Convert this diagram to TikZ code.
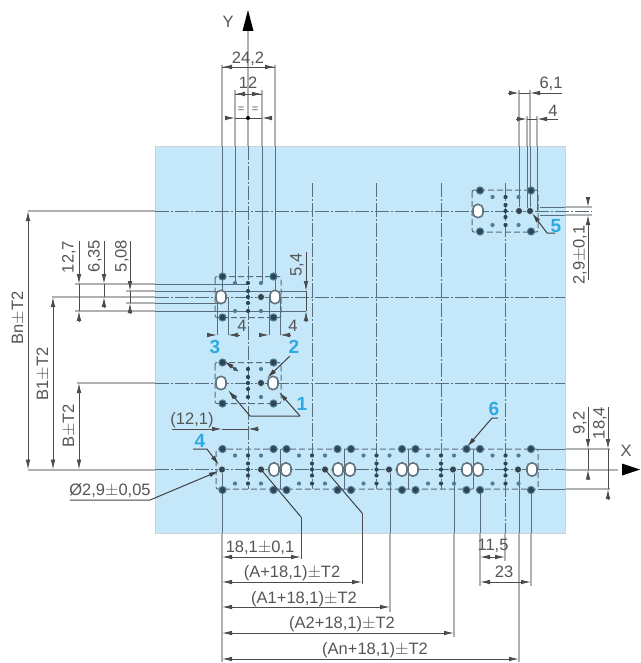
\documentclass[tikz,border=0pt]{standalone}
\usepackage{fontspec}
\setmainfont{Liberation Sans}
\usetikzlibrary{arrows.meta}
\definecolor{panelblue}{RGB}{197,231,250}
\definecolor{linegray}{RGB}{88,108,122}
\definecolor{extgray}{RGB}{175,178,180}
\definecolor{textgray}{RGB}{85,85,85}
\definecolor{dotdark}{RGB}{45,70,85}
\definecolor{dotlight}{RGB}{80,125,150}
\definecolor{numcyan}{RGB}{45,170,225}

\tikzset{
	axisline/.style={linegray, line width=1pt, dash pattern=on 14pt off 2pt on 2pt off 2pt},
	extline/.style={extgray, line width=2pt},
	drawline/.style={linegray, line width=1pt},
	dimline/.style={black!70, line width=0.9pt},
	railline/.style={linegray, line width=1pt, dash pattern=on 6pt off 3pt},
	leaderline/.style={black!75, line width=1pt},
	dimlabel/.style={textgray, inner sep=0pt, font=\fontsize{16.5}{18}\selectfont},
	numlabel/.style={numcyan, inner sep=0pt, font=\fontsize{19}{20}\selectfont\bfseries},
	bigdot/.style={fill=dotdark, draw=dotlight, line width=1pt},
	slothole/.style={fill=white, draw=dotdark!75, line width=1.6pt, rounded corners=4.5pt}
}

% dots of one plate, no holes
\newcommand{\platedots}[2]{
	\filldraw[bigdot] (#1-25.5,#2-20.5) circle (3.6);
	\filldraw[bigdot] (#1+25.5,#2-20.5) circle (3.6);
	\filldraw[bigdot] (#1-25.5,#2+20.5) circle (3.6);
	\filldraw[bigdot] (#1+25.5,#2+20.5) circle (3.6);
	\fill[dotlight] (#1-13,#2-14) circle (2.1);
	\fill[dotlight] (#1+13,#2-14) circle (2.1);
	\fill[dotlight] (#1-13,#2+14) circle (2.1);
	\fill[dotlight] (#1+13,#2+14) circle (2.1);
	\fill[dotdark] (#1,#2-14) circle (2.1);
	\fill[dotdark] (#1,#2-6) circle (2.1);
	\fill[dotdark] (#1,#2) circle (2.1);
	\fill[dotdark] (#1,#2+6) circle (2.1);
	\fill[dotdark] (#1,#2+14) circle (2.1);
}
\newcommand{\slotat}[2]{
	\filldraw[slothole] (#1-5,#2-6.5) rectangle +(10,13);
}
\newcommand{\holeat}[2]{
	\filldraw[fill=dotdark, draw=white!70!dotlight, line width=0.8pt] (#1,#2) circle (3.6);
}

\begin{document}
\begin{tikzpicture}[x=1pt, y=-1pt, >={Latex[length=10pt,width=4.6pt]}, line cap=butt]

		\useasboundingbox (0,0) rectangle (640,663);

		\fill[panelblue] (155,146) rectangle (565,533);
		\draw[extgray!60, line width=0.6pt] (155,146) rectangle (565,533);

		% outside the panel
		\draw[extline] (28,211)--(155,211);
		\draw[extline] (52,297)--(155,297);
		\draw[extline] (77,383)--(155,383);
		\draw[extline] (28,469.5)--(155,469.5);
		\draw[extline] (75,284)--(155,284);
		\draw[extline] (126,291)--(155,291);
		\draw[extline] (126,303)--(155,303);
		\draw[extline] (75,311)--(155,311);
		\draw[extline] (565,207)--(592,207);
		\draw[extline] (565,215)--(592,215);
		\draw[extline] (565,449)--(610,449);
		\draw[extline] (565,469.5)--(618,469.5);
		\draw[extline] (565,489)--(610,489);
		\draw[extline] (222,65)--(222,146);
		\draw[extline] (235,90)--(235,146);
		\draw[extline] (262,90)--(262,146);
		\draw[extline] (275,65)--(275,146);
		\draw[extline] (248,30)--(248,146);
		\draw[extline] (519,90)--(519,146);
		\draw[extline] (527,116)--(527,146);
		\draw[extline] (530,90)--(530,146);
		\draw[extline] (537,116)--(537,146);
		\draw[extline] (222,533)--(222,662);
		\draw[extline] (390,533)--(390,612);
		\draw[extline] (454,533)--(454,637);
		\draw[extline] (480,533)--(480,586);
		\draw[extline] (505,533)--(505,561);
		\draw[extline] (519,533)--(519,662);
		\draw[extline] (531,533)--(531,586);

		% inside the panel
		\draw[axisline] (155,211)--(592,211);
		\draw[axisline] (155,297)--(565,297);
		\draw[axisline] (155,383)--(565,383);
		\draw[axisline] (155,469.5)--(565,469.5);
		\draw[axisline] (248,146)--(248,489);
		\draw[axisline] (312,183)--(312,489);
		\draw[axisline] (376,183)--(376,489);
		\draw[axisline] (441,183)--(441,489);
		\draw[axisline] (505,183)--(505,533);

		\draw[drawline] (155,284)--(248,284);
		\draw[drawline] (155,291)--(306,291);
		\draw[drawline] (155,303)--(222,303);
		\draw[drawline] (155,311)--(306,311);
		\draw[drawline] (540,207)--(565,207);
		\draw[drawline] (540,215)--(565,215);
		\draw[drawline] (538,449)--(565,449);
		\draw[drawline] (538,489)--(565,489);

		\draw[drawline] (222,146)--(222,297);
		\draw[drawline] (235,146)--(235,284);
		\draw[drawline] (262,146)--(262,284);
		\draw[drawline] (275,146)--(275,297);
		\draw[drawline] (217,297)--(217,335);
		\draw[drawline] (228,297)--(228,335);
		\draw[drawline] (269,297)--(269,335);
		\draw[drawline] (280,297)--(280,335);
		\draw[drawline] (519,146)--(519,211);
		\draw[drawline] (527,146)--(527,211);
		\draw[drawline] (530,146)--(530,211);
		\draw[drawline] (537,146)--(537,211);
		\draw[drawline] (222,469)--(222,533);
		\draw[drawline] (390,469)--(390,533);
		\draw[drawline] (454,469)--(454,533);
		\draw[drawline] (480,489)--(480,533);
		\draw[drawline] (519,469)--(519,533);
		\draw[drawline] (531,489)--(531,533);

		% plate outlines
		\draw[railline, rounded corners=2pt] (472,190)--(472,232)--(538,232)--(538,190)--cycle;
		\draw[railline, rounded corners=2pt] (215,276.5)--(215,317.5)--(281,317.5)--(281,276.5)--cycle;
		\draw[railline, rounded corners=2pt] (215,362.5)--(215,403.5)--(281,403.5)--(281,362.5)--cycle;
		\draw[railline, rounded corners=2pt] (216,449)--(216,489)--(538,489)--(538,449)--cycle;
		\draw[drawline, line width=0.7pt] (280,449)--(280,489);
		\draw[drawline, line width=0.7pt] (344,449)--(344,489);
		\draw[drawline, line width=0.7pt] (408,449)--(408,489);
		\draw[drawline, line width=0.7pt] (473,449)--(473,489);

		\platedots{505.5}{211}
		\platedots{248}{297}
		\platedots{248}{383}
		\platedots{248}{469.5}
		\platedots{312}{469.5}
		\platedots{376.5}{469.5}
		\platedots{441}{469.5}
		\platedots{505.5}{469.5}

		\slotat{478}{211}
		\slotat{221}{297}
		\slotat{275}{297}
		\slotat{221}{383}
		\slotat{273}{383}
		\slotat{274}{469.5}
		\slotat{286}{469.5}
		\slotat{338}{469.5}
		\slotat{350}{469.5}
		\slotat{402}{469.5}
		\slotat{413}{469.5}
		\slotat{467}{469.5}
		\slotat{478}{469.5}
		\slotat{532}{469.5}

		\holeat{519}{211}
		\holeat{530}{211}
		\holeat{261}{297}
		\holeat{261}{383}
		\holeat{222}{469.5}
		\holeat{261}{469.5}
		\holeat{325}{469.5}
		\holeat{389}{469.5}
		\holeat{453}{469.5}
		\holeat{518}{469.5}

		% axes
		\fill[black] (248,10)--(253.5,31)--(242.5,31)--cycle;
		\node[dimlabel] (ylabel) at (228,22) {Y};
		\fill[black] (640,469.5)--(622,463.5)--(622,475.5)--cycle;
		\node[dimlabel] (xlabel) at (626,451) {X};

		% top dimensions
		\draw[dimline] (222,67)--(275,67);
		\draw[dimline, <-] (222,67)--(233,67);
		\draw[dimline, <-] (275,67)--(264,67);
		\node[dimlabel] (dima) at (248,59) {24,2};
		\draw[dimline] (235,94)--(262,94);
		\draw[dimline, <-] (235,94)--(245,94);
		\draw[dimline, <-] (262,94)--(252,94);
		\node[dimlabel] (dimb) at (248,83) {12};
		\node[dimlabel, font=\fontsize{11}{12}\selectfont] (eqa) at (241,110) {=};
		\node[dimlabel, font=\fontsize{11}{12}\selectfont] (eqb) at (255,110) {=};
		\draw[dimline, ->] (226,118)--(235,118);
		\draw[dimline, ->] (271,118)--(262,118);
		\draw[dimline] (235,118)--(262,118);
		\fill[black] (248,118) circle (2);

		\draw[dimline, ->] (508,93)--(519,93);
		\draw[dimline, ->] (562,93)--(530,93);
		\draw[dimline] (519,93)--(530,93);
		\node[dimlabel] (dimc) at (551,84) {6,1};
		\draw[dimline, ->] (516,119)--(527,119);
		\draw[dimline, ->] (558,119)--(537,119);
		\draw[dimline] (527,119)--(537,119);
		\node[dimlabel] (dimd) at (553,111) {4};

		% right dimensions
		\draw[dimline, ->] (588,280)--(588,215);
		\draw[dimline, ->] (588,197)--(588,207);
		\node[dimlabel, rotate=90] (dime) at (580,255) {2,9$\pm$0,1};
		\draw[dimline, ->] (588,407)--(588,449);
		\draw[dimline] (588,449)--(588,469.5);
		\draw[dimline, ->] (588,479)--(588,469.5);
		\node[dimlabel, rotate=90] (dimf) at (580,423) {9,2};
		\draw[dimline, ->] (608,407)--(608,449);
		\draw[dimline] (608,449)--(608,489);
		\draw[dimline, ->] (608,499)--(608,489);
		\node[dimlabel, rotate=90] (dimg) at (600,423) {18,4};

		% left dimensions
		\draw[dimline, <->] (28,211)--(28,469.5);
		\node[dimlabel, rotate=90] (dimh) at (18,318) {Bn$\pm$T2};
		\draw[dimline, <->] (53,297)--(53,469.5);
		\node[dimlabel, rotate=90] (dimi) at (43,374) {B1$\pm$T2};
		\draw[dimline, <->] (79,383)--(79,469.5);
		\node[dimlabel, rotate=90] (dimj) at (69,426) {B$\pm$T2};

		\draw[dimline, ->] (79,241)--(79,284);
		\draw[dimline] (79,284)--(79,311);
		\draw[dimline, ->] (79,321)--(79,311);
		\node[dimlabel, rotate=90] (dimk) at (69,257) {12,7};
		\draw[dimline, ->] (104,241)--(104,284);
		\draw[dimline] (104,284)--(104,297);
		\draw[dimline, ->] (104,307)--(104,297);
		\node[dimlabel, rotate=90] (diml) at (95,256) {6,35};
		\draw[dimline, ->] (130,241)--(130,291);
		\draw[dimline] (130,291)--(130,303);
		\draw[dimline, ->] (130,313)--(130,303);
		\node[dimlabel, rotate=90] (dimm) at (122,256) {5,08};

		\draw[dimline, ->] (306,252)--(306,291);
		\draw[dimline] (306,291)--(306,311);
		\draw[dimline, ->] (306,321)--(306,311);
		\node[dimlabel, rotate=90] (dimn) at (297,265) {5,4};

		\draw[dimline, ->] (207,335)--(217,335);
		\draw[dimline, ->] (240,335)--(228,335);
		\node[dimlabel] (dimo) at (242,326) {4};
		\draw[dimline, ->] (259,335)--(269,335);
		\draw[dimline, ->] (290,335)--(280,335);
		\node[dimlabel] (dimp) at (293,326) {4};

		\draw[dimline, ->] (172,429)--(222,429);
		\draw[dimline] (222,429)--(248,429);
		\draw[dimline, ->] (258,429)--(248,429);
		\node[dimlabel] (dimq) at (192,420) {(12,1)};

		% bottom dimensions
		\draw[dimline, <->] (222,557)--(301,557);
		\node[dimlabel] (dimr) at (260,548) {18,1$\pm$0,1};
		\draw[dimline, <->] (222,582)--(362,582);
		\node[dimlabel] (dims) at (292,573) {(A+18,1)$\pm$T2};
		\draw[dimline, <->] (222,607)--(390,607);
		\node[dimlabel] (dimt) at (304,599) {(A1+18,1)$\pm$T2};
		\draw[dimline, <->] (222,633)--(454,633);
		\node[dimlabel] (dimu) at (342,624) {(A2+18,1)$\pm$T2};
		\draw[dimline, <->] (222,659)--(519,659);
		\node[dimlabel] (dimv) at (375,650) {(An+18,1)$\pm$T2};
		\draw[dimline, <->] (480,557)--(505,557);
		\node[dimlabel] (dimw) at (493,546) {11,5};
		\draw[dimline, <->] (480,582)--(531,582);
		\node[dimlabel] (dimx) at (504,572) {23};

		% leaders
		\draw[dimline] (301,517)--(301,559);
		\draw[dimline] (362,513)--(362,584);
		\draw[leaderline] (261,469.5)--(301,517);
		\draw[leaderline] (325,469.5)--(362,513);

		\node[numlabel] (numa) at (302,404) {1};
		\node[numlabel] (numb) at (294,347) {2};
		\node[numlabel] (numc) at (215,347) {3};
		\node[numlabel] (numd) at (200,441) {4};
		\node[numlabel] (nume) at (556,226) {5};
		\node[numlabel] (numf) at (494,409) {6};
		\node[dimlabel] (dimy) at (110,491) {\O 2,9$\pm$0,05};

		\draw[leaderline, ->] (300,416)--(250,416)--(228,390);
		\draw[leaderline, ->] (300,416)--(279,392);
		\draw[leaderline, ->] (290,356)--(267,378);
		\draw[leaderline, ->] (238,371)--(224,361);
		\draw[leaderline, ->] (193,449)--(207,449)--(219,465);
		\draw[leaderline, ->] (555,233)--(547,233)--(532,213);
		\draw[leaderline, ->] (498,418)--(492,418)--(467,447);
		\draw[leaderline, ->] (70,500)--(150,500)--(219,471);

\end{tikzpicture}
\end{document}
